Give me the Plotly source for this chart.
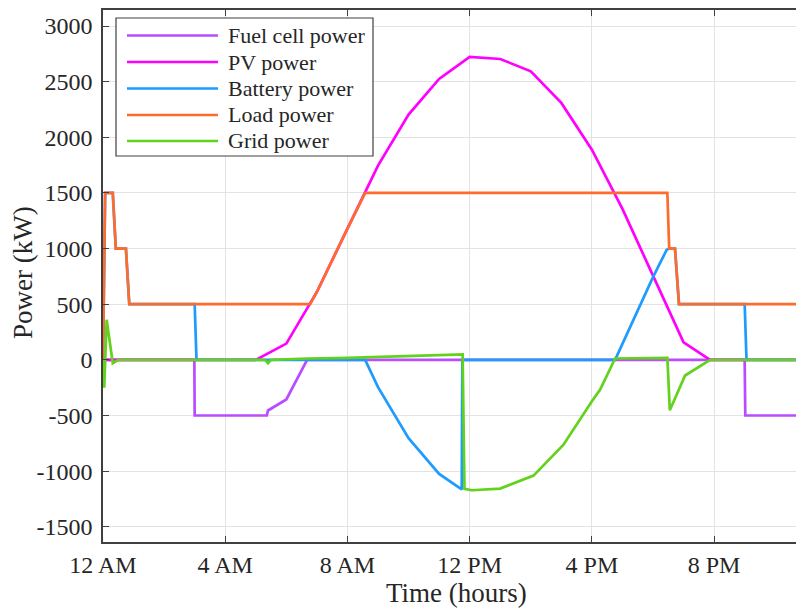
import plotly.graph_objects as go

# ---------------- data (hours, kW) ----------------
t_fuel = [0, 2.99, 3.0, 5.36, 5.4, 6.0, 6.68, 21.0, 21.02, 24]
fuel = [0, 0, -500, -500, -455, -356, 0, 0, -500, -500]

t_pv = [0, 5, 6, 7, 8, 9, 10, 11, 12, 13, 14, 15, 16, 17, 18, 19, 19.87, 24]
pv = [0, 0, 146, 610, 1180, 1745, 2204, 2525, 2722, 2704, 2593, 2309, 1889, 1356, 757, 158, 0, 0]

t_bat = [0, 0.07, 0.32, 0.42, 0.75, 0.86, 3.0, 3.06, 8.58, 9, 10, 11, 11.74, 11.76,
         16.76, 17, 18, 18.45, 18.53, 18.72, 18.85, 21.0, 21.06, 24]
bat = [0, 1500, 1500, 1000, 1000, 500, 500, 0, 0, -245, -704, -1025, -1165, 0,
       0, 144, 743, 990, 1000, 1000, 500, 500, 0, 0]

t_load = [0, 0.07, 0.32, 0.42, 0.75, 0.86, 6.78, 7, 8, 8.58, 18.47, 18.53, 18.72, 18.85, 24]
load = [0, 1500, 1500, 1000, 1000, 500, 500, 610, 1180, 1500, 1500, 1000, 1000, 500, 500]

t_grid = [0, 0.04, 0.12, 0.32, 0.5, 5.3, 5.4, 5.5, 6.7, 8.0, 11.77, 11.83, 12.07, 13, 14.09,
          15.07, 16, 16.27, 16.76, 18.47, 18.55, 19.05, 19.87, 24]
grid = [0, -250, 360, -30, 0, 0, -30, 0, 12, 18, 48, -1160, -1172, -1157, -1040,
        -762, -373, -267, 12, 18, -453, -141, 0, 0]

series_names = ["Fuel cell power", "PV power", "Battery power", "Load power", "Grid power"]
series_colors = ["#B94CFF", "#FF00FF", "#1E9BFF", "#FF6B2D", "#62D21C"]
series_t = [t_fuel, t_pv, t_bat, t_load, t_grid]
series_v = [fuel, pv, bat, load, grid]

x_tickvals = [0, 4, 8, 12, 16, 20]
x_ticktext = ["12 AM", "4 AM", "8 AM", "12 PM", "4 PM", "8 PM"]
y_tickvals = [-1500, -1000, -500, 0, 500, 1000, 1500, 2000, 2500, 3000]
y_ticktext = [str(v) for v in y_tickvals]

# ---------------- figure ----------------
W, H = 796, 610
L, R, T, B = 103, 0, 10, 68
pw, ph = W - L - R, H - T - B

def xp(px):
    return (px - L) / pw

def yp(py):
    return (H - B - py) / ph

FONT = "'Liberation Serif', 'Times New Roman', serif"
TXT = "#262626"
AX = "#404040"

fig = go.Figure()
for name, col, tt, vv in zip(series_names, series_colors, series_t, series_v):
    fig.add_trace(go.Scatter(x=tt, y=vv, mode="lines", name=name,
                             line=dict(color=col, width=2.7), showlegend=False))

# custom legend (MATLAB-style, long line samples)
shapes = [dict(type="rect", xref="paper", yref="paper",
               x0=xp(116), x1=xp(373), y0=yp(156), y1=yp(18),
               fillcolor="white", line=dict(color=AX, width=1.2), layer="above")]
annotations = []
row_y = [35.5, 62, 88.5, 115, 141]
for name, col, ry in zip(series_names, series_colors, row_y):
    shapes.append(dict(type="line", xref="paper", yref="paper",
                       x0=xp(127), x1=xp(218), y0=yp(ry), y1=yp(ry),
                       line=dict(color=col, width=2.7), layer="above"))
    annotations.append(dict(xref="paper", yref="paper", x=xp(226), y=yp(ry),
                            xanchor="left", yanchor="middle", text=name, showarrow=False,
                            font=dict(family=FONT, size=22, color=TXT)))

# axis titles
annotations.append(dict(xref="paper", yref="paper", x=xp(456.7), y=yp(593),
                        xanchor="center", yanchor="middle", text="Time (hours)",
                        showarrow=False, font=dict(family=FONT, size=27, color=TXT)))
annotations.append(dict(xref="paper", yref="paper", x=xp(22.5), y=yp(272.5),
                        xanchor="center", yanchor="middle", text="Power (kW)", textangle=-90,
                        showarrow=False, font=dict(family=FONT, size=27, color=TXT)))

fig.update_layout(
    width=W, height=H,
    margin=dict(l=L, r=R, t=T, b=B, pad=0),
    plot_bgcolor="white", paper_bgcolor="white",
    font=dict(family=FONT, size=24, color=TXT),
    shapes=shapes, annotations=annotations,
    showlegend=False,
)
fig.update_xaxes(range=[0, 22.68], tickvals=x_tickvals, ticktext=x_ticktext,
                 showgrid=True, gridcolor="#e3e3e3", gridwidth=1, zeroline=False,
                 showline=True, linecolor=AX, linewidth=1.5, mirror="ticks",
                 ticks="inside", ticklen=6, tickcolor=AX, tickwidth=1.2,
                 ticklabelstandoff=0,
                 tickfont=dict(family=FONT, size=24, color=TXT))
fig.update_yaxes(range=[-1637, 3144], tickvals=y_tickvals, ticktext=y_ticktext,
                 showgrid=True, gridcolor="#e3e3e3", gridwidth=1, zeroline=False,
                 showline=True, linecolor=AX, linewidth=1.5, mirror=False,
                 ticks="inside", ticklen=6, tickcolor=AX, tickwidth=1.2,
                 ticklabelstandoff=4,
                 tickfont=dict(family=FONT, size=24, color=TXT))

fig.write_html("out.html")
